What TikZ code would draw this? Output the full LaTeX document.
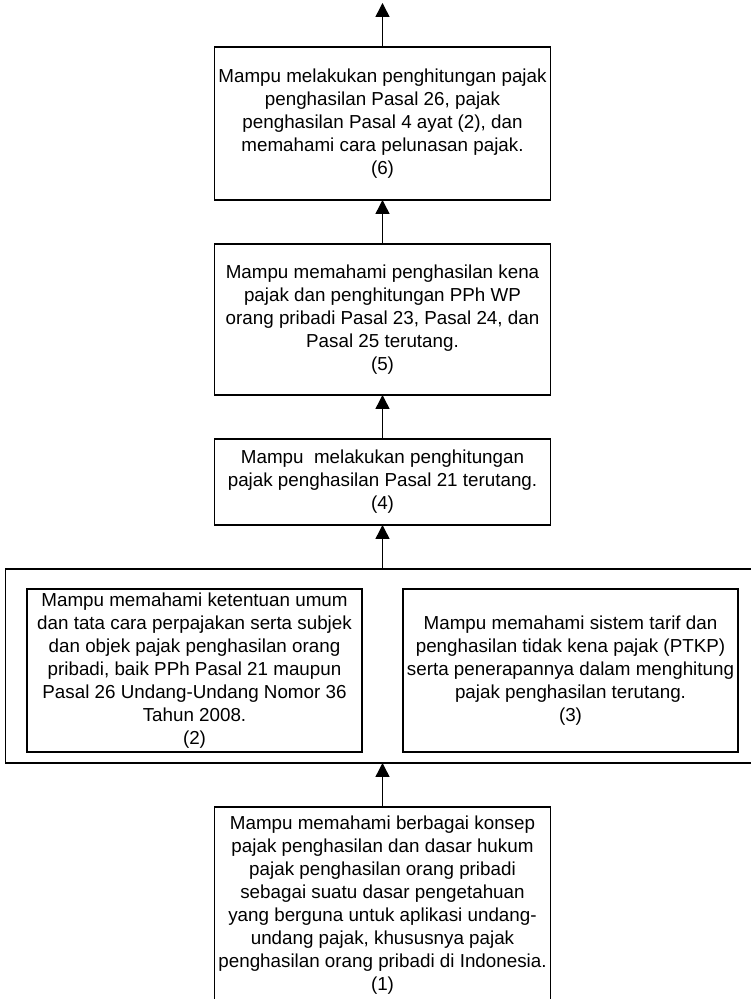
\documentclass[tikz,border=0pt]{standalone}
\usepackage{fontspec}
\setmainfont{Liberation Sans}
\usetikzlibrary{positioning,arrows.meta}

\begin{document}
\begin{tikzpicture}[
		node distance=22pt,
		every node/.style={align=center,inner sep=0pt,outer sep=0pt,font=\fontsize{9.4}{11.5}\selectfont},
		stage/.style={draw,line width=0.7pt,minimum width=168pt},
		arr/.style={line width=0.7pt,-{Triangle[width=7pt,length=7pt]}}
		]
		\useasboundingbox (0,0) rectangle (375pt,499.5pt);
		% bottom stage
		\node[stage,anchor=north,minimum height=98pt] (b1) at (191.25pt,96pt)
			{Mampu memahami berbagai konsep\\ pajak penghasilan dan dasar hukum\\ pajak penghasilan orang pribadi\\ sebagai suatu dasar pengetahuan\\ yang berguna untuk aplikasi undang-\\ undang pajak, khususnya pajak\\ penghasilan orang pribadi di Indonesia.\\ (1)};
		% frame round stages 2 and 3
		\node[draw,line width=0.7pt,minimum width=373pt,minimum height=97pt,above=of b1,xshift=-2pt] (grp) {};
		\node[stage,minimum width=167.5pt,minimum height=81.5pt] (b2) at ([xshift=-92pt,yshift=-2.25pt]grp.center)
			{Mampu memahami ketentuan umum\\ dan tata cara perpajakan serta subjek\\ dan objek pajak penghasilan orang\\ pribadi, baik PPh Pasal 21 maupun\\ Pasal 26 Undang-Undang Nomor 36\\ Tahun 2008.\\ (2)};
		\node[stage,minimum width=167.5pt,minimum height=81.5pt] (b3) at ([xshift=96pt,yshift=-2.25pt]grp.center)
			{Mampu memahami sistem tarif dan\\ penghasilan tidak kena pajak (PTKP)\\ serta penerapannya dalam menghitung\\ pajak penghasilan terutang.\\ (3)};
		\coordinate (gtop) at (grp.north -| b1);
		% upper stages
		\node[stage,minimum height=43pt,above=of gtop] (b4)
			{Mampu\ \ melakukan penghitungan\\ pajak penghasilan Pasal 21 terutang.\\ (4)};
		\node[stage,minimum height=75.5pt,above=of b4] (b5)
			{Mampu memahami penghasilan kena\\ pajak dan penghitungan PPh WP\\ orang pribadi Pasal 23, Pasal 24, dan\\ Pasal 25 terutang.\\ (5)};
		\node[stage,minimum height=76.5pt,above=of b5] (b6)
			{Mampu melakukan penghitungan pajak\\ penghasilan Pasal 26, pajak\\ penghasilan Pasal 4 ayat (2), dan\\ memahami cara pelunasan pajak.\\ (6)};
		\coordinate[above=of b6] (out);
		% arrows
		\draw[arr] (b1) -- (b1 |- grp.south);
		\draw[arr] (gtop) -- (b4);
		\draw[arr] (b4) -- (b5);
		\draw[arr] (b5) -- (b6);
		\draw[arr] (b6) -- (out);
	\end{tikzpicture}
\end{document}
